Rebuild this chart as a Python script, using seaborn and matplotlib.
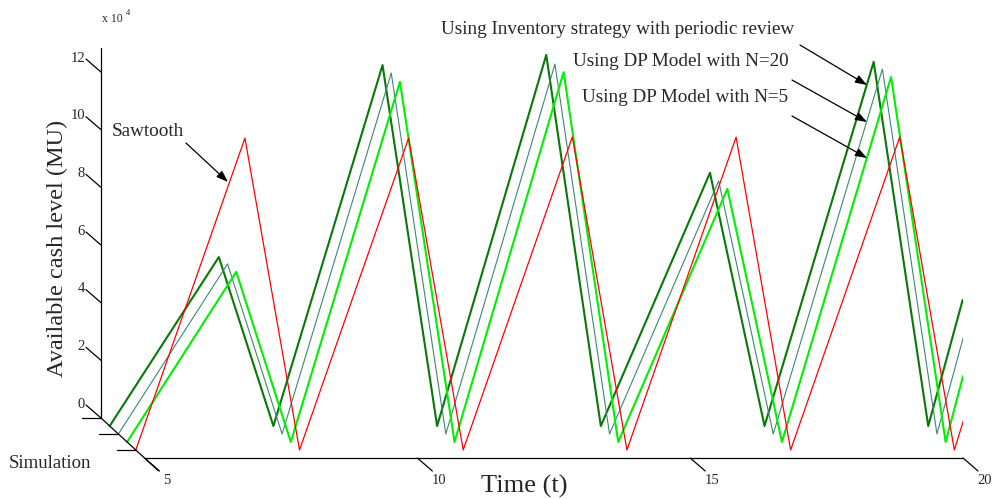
import numpy as np
import pandas as pd
import seaborn as sns
import matplotlib
matplotlib.use("Agg")
import matplotlib.pyplot as plt
from matplotlib.transforms import ScaledTranslation, IdentityTransform
from matplotlib.lines import Line2D

sns.set_style("white")
plt.rcParams["font.family"] = ["Liberation Serif", "DejaVu Serif"]

# ---------------- data (cash level in MU) ----------------
time_pts = [5, 7, 8, 10, 11, 13, 14, 16, 17, 19, 20]
cash_inventory = [0, 58600, 0, 125200, 0, 128700, 0, 87800, 0, 126300, 0]
cash_dp20 = [0, 59000, 0, 125200, 0, 128300, 0, 87800, 0, 126600, 0]
cash_dp5 = [0, 59000, 0, 124900, 0, 128300, 0, 87800, 0, 126600, 0]
cash_sawtooth = [0, 108200, 0, 108200, 0, 108600, 0, 108500, 0, 108600, 0]
# last visible point of each series (where the plot box cuts it)
end_time = [20.63, 20.48, 20.32, 20.17]
end_cash = [43700, 33300, 22900, 10400]
series_names = ["Using Inventory strategy with periodic review",
                "Using DP Model with N=20",
                "Using DP Model with N=5",
                "Sawtooth"]
simulation_idx = [1, 2, 3, 4]
x_ticks = [5, 10, 15, 20]
z_ticks = [0, 2, 4, 6, 8, 10, 12]

colors = ["#087808", "#3f8674", "#00f000", "#ff0000"]
widths = [1.5, 0.8, 1.5, 0.9]

W, H = 996, 499
fig = plt.figure(figsize=(W / 100, H / 100), dpi=100)
ax = fig.add_axes([101 / W, 19 / H, 862 / W, 460 / H])

PX_PER_T = 54.57
PX_PER_Z = 28.83
XLIM = (5, 5 + 862 / PX_PER_T)
YLIM = ((418 - 480) / PX_PER_Z, (418 - 20) / PX_PER_Z)
DX, DY = 8.7, 8.0  # pixel shift per simulation step (depth)

all_cash = [cash_inventory, cash_dp20, cash_dp5, cash_sawtooth]
for i, vals in enumerate(all_cash):
    t = list(time_pts) + [end_time[i]]
    z = (np.array(list(vals) + [end_cash[i]]) / 1e4)
    df = pd.DataFrame({"t": t, "z": z})
    sns.lineplot(data=df, x="t", y="z", ax=ax, color=colors[i],
                 linewidth=widths[i], estimator=None, sort=False, legend=False)
    d = simulation_idx[i]
    ln = ax.lines[-1]
    ln.set_transform(ax.transData + ScaledTranslation(DX * d / 100, -DY * d / 100,
                                                      fig.dpi_scale_trans))

ax.set_xlim(*XLIM)
ax.set_ylim(*YLIM)
ax.set_axis_off()


def P(t, z, d=0.0):
    x, y = ax.transData.transform((t, z))
    return x + DX * d, y - DY * d


def seg(p0, p1, lw=0.9, color="black"):
    fig.add_artist(Line2D([p0[0], p1[0]], [p0[1], p1[1]],
                          transform=IdentityTransform(), color=color, lw=lw))


def ftext(x, y, s, **kw):
    fig.text(x / W, y / H, s, **kw)


# vertical (cash) axis
seg(P(5, 0, 0), P(5, 12.83, 0))
for zt in z_ticks:
    p = P(5, zt, 0)
    seg(p, (p[0] - 15, p[1] + 13))
    ftext(p[0] - 16, p[1] + 14, str(zt), ha="right", va="center", fontsize=10.5)

# depth (simulation) axis
seg(P(5, 0, 0), P(5, 0, 6.6))
for d in [0, 2, 4]:
    p = P(5, 0, d)
    seg((p[0] - 19, p[1]), p)

# time axis (front)
seg(P(5, 0, 5), P(20, 0, 5))
for xt in x_ticks:
    p = P(xt, 0, 5)
    seg(p, (p[0] + 15, p[1] - 13))
    ftext(p[0] + 22, p[1] - 22, str(xt), ha="center", va="center", fontsize=10.5)

# labels
ftext(102, H - 19, "x 10", ha="left", va="center", fontsize=8.5)
ftext(126, H - 13, "4", ha="left", va="center", fontsize=6)
ftext(57, H - 248, "Available cash level (MU)", rotation=90, ha="center",
      va="center", fontsize=17.5)
ftext(524, H - 486, "Time (t)", ha="center", va="center", fontsize=19)
ftext(50, H - 463, "Simulation", ha="center", va="center", fontsize=13.5)

# annotations
arrow = dict(arrowstyle="-|>,head_length=0.7,head_width=0.25", color="black",
             lw=0.9, shrinkA=0, shrinkB=0)
ftext(148, H - 131, series_names[3], ha="center", va="center", fontsize=13.8)
fig.add_artist(plt.Annotation("", xy=(228, H - 182), xytext=(186, H - 143),
                              xycoords="figure pixels", textcoords="figure pixels",
                              arrowprops=arrow))
ftext(618, H - 30, series_names[0], ha="center", va="center", fontsize=13.8)
ftext(681, H - 62, series_names[1], ha="center", va="center", fontsize=13.8)
ftext(685, H - 97, series_names[2], ha="center", va="center", fontsize=13.8)
for (x0, y0), (x1, y1) in [((800, 45), (867, 85)), ((792, 80), (867, 122)),
                           ((792, 116), (867, 158))]:
    fig.add_artist(plt.Annotation("", xy=(x1, H - y1), xytext=(x0, H - y0),
                                  xycoords="figure pixels", textcoords="figure pixels",
                                  arrowprops=arrow))

fig.savefig("out.png", dpi=100)
